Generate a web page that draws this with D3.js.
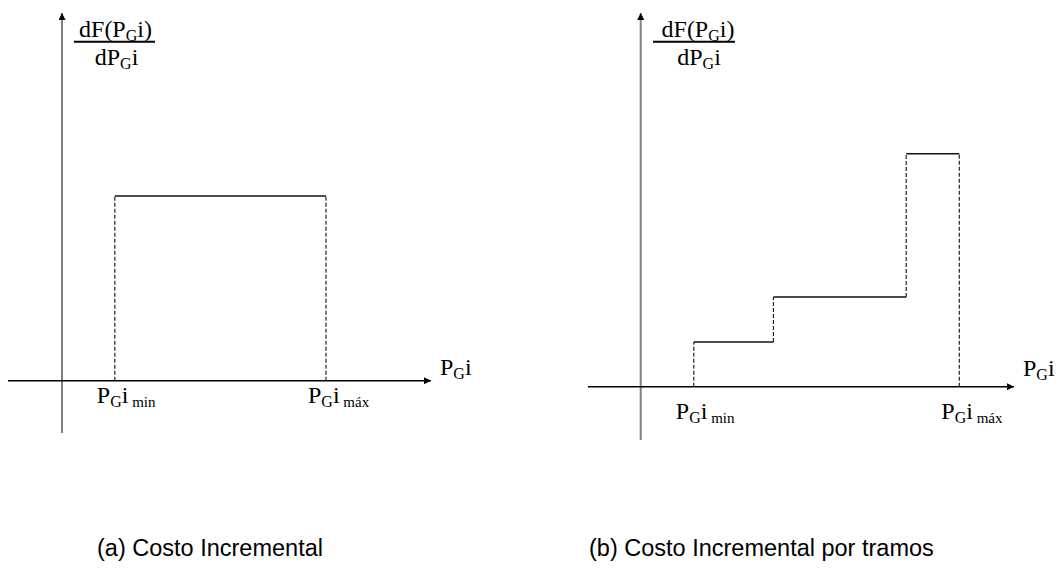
<!DOCTYPE html>
<html>
<head>
<meta charset="utf-8">
<script src="https://cdn.jsdelivr.net/npm/d3@7"></script>
<style>
  html, body { margin: 0; padding: 0; background: #fff; }
  svg { display: block; }
</style>
</head>
<body>
<svg id="chart" width="1058" height="569"></svg>
<script>
// ---------- data ----------
// Panel (a): constant incremental cost between PGi min and PGi max
const panelA_breaks = [1, 5];          // PGi min, PGi max (x units)
const panelA_levels = [3.5];           // incremental cost level
// Panel (b): stepwise incremental cost
const panelB_breaks = [1, 2.5, 5, 6];  // PGi min, step1, step2, PGi max
const panelB_levels = [1, 2, 5.2];     // level of each segment
const tickLabels = ["min", "máx"];
const captions = ["(a) Costo Incremental", "(b) Costo Incremental por tramos"];

const svg = d3.select("#chart");
const defs = svg.append("defs");
defs.append("marker").attr("id", "arr")
  .attr("viewBox", "0 0 10 10").attr("refX", 10).attr("refY", 5)
  .attr("markerUnits", "userSpaceOnUse")
  .attr("markerWidth", 11).attr("markerHeight", 7)
  .attr("orient", "auto")
  .append("path").attr("d", "M0,0 L10,5 L0,10 Z").attr("fill", "#000");

const serif = "'Liberation Serif','Times New Roman',serif";

function pgiLabel(g, x, y, sub) {
  const t = g.append("text").attr("x", x).attr("y", y)
    .attr("font-family", serif).attr("font-size", 24).attr("fill", "#000");
  t.append("tspan").text("P");
  t.append("tspan").attr("font-size", 16).attr("dy", 4).text("G");
  t.append("tspan").attr("dy", -4).text("i");
  if (sub) t.append("tspan").attr("font-size", 15).attr("dy", 4).text("\u00A0" + sub);
  return t;
}

function fraction(g, cx, lineX1, lineX2, numDx) {
  const num = g.append("text").attr("x", cx + (numDx || 0)).attr("y", 36.5)
    .attr("text-anchor", "middle")
    .attr("font-family", serif).attr("font-size", 24).attr("fill", "#000");
  num.append("tspan").text("dF(P");
  num.append("tspan").attr("font-size", 16).attr("dy", 4).text("G");
  num.append("tspan").attr("dy", -4).text("i)");
  g.append("line").attr("x1", lineX1).attr("x2", lineX2)
    .attr("y1", 41.7).attr("y2", 41.7).attr("stroke", "#000").attr("stroke-width", 2);
  const den = g.append("text").attr("x", cx + 1).attr("y", 64.5)
    .attr("text-anchor", "middle")
    .attr("font-family", serif).attr("font-size", 24).attr("fill", "#000");
  den.append("tspan").text("dP");
  den.append("tspan").attr("font-size", 16).attr("dy", 4).text("G");
  den.append("tspan").attr("dy", -4).text("i");
}

function drawPanel(cfg) {
  const g = svg.append("g");
  const x = cfg.x, y = cfg.y;
  // y axis (gray)
  g.append("line").attr("x1", x(0)).attr("x2", x(0))
    .attr("y1", cfg.yAxisBottom).attr("y2", 13)
    .attr("stroke", "#808080").attr("stroke-width", 2)
    .attr("marker-end", "url(#arr)");
  // x axis (black)
  g.append("line").attr("x1", cfg.xAxisLeft).attr("x2", cfg.xAxisRight)
    .attr("y1", y(0)).attr("y2", y(0))
    .attr("stroke", "#000").attr("stroke-width", 1.6)
    .attr("marker-end", "url(#arr)");

  const br = cfg.breaks, lv = cfg.levels;
  // dashed verticals
  const verts = [];
  verts.push({ x: br[0], y0: 0, y1: lv[0] });
  for (let i = 1; i < br.length - 1; i++) verts.push({ x: br[i], y0: lv[i - 1], y1: lv[i] });
  verts.push({ x: br[br.length - 1], y0: 0, y1: lv[lv.length - 1] });
  g.selectAll(".v").data(verts).join("line")
    .attr("x1", d => x(d.x)).attr("x2", d => x(d.x))
    .attr("y1", d => y(d.y0)).attr("y2", d => y(d.y1))
    .attr("stroke", "#222").attr("stroke-width", 1.2)
    .attr("stroke-dasharray", "4,2");
  // horizontal segments
  const segs = lv.map((v, i) => ({ x0: br[i], x1: br[i + 1], v }));
  g.selectAll(".h").data(segs).join("line")
    .attr("x1", d => x(d.x0)).attr("x2", d => x(d.x1))
    .attr("y1", d => y(d.v)).attr("y2", d => y(d.v))
    .attr("stroke", "#111").attr("stroke-width", 1.5);

  // tick labels
  pgiLabel(g, x(br[0]) - 18, cfg.labelY, tickLabels[0]);
  pgiLabel(g, x(br[br.length - 1]) - 18, cfg.labelY, tickLabels[1]);
  // axis label
  pgiLabel(g, cfg.axisLabelX, cfg.axisLabelY, null);
  // y label fraction
  fraction(g, cfg.fracCx, cfg.fracL, cfg.fracR, cfg.numDx);
  // caption
  g.append("text").attr("x", cfg.capX).attr("y", 556)
    .attr("font-family", "'Liberation Sans',Arial,sans-serif")
    .attr("font-size", 23.5).attr("fill", "#000").text(cfg.caption);
}

drawPanel({
  x: d3.scaleLinear().domain([0, 5]).range([62, 326]),
  y: d3.scaleLinear().domain([0, 3.5]).range([380.7, 196]),
  breaks: panelA_breaks, levels: [panelA_levels[0]],
  yAxisBottom: 433, xAxisLeft: 8, xAxisRight: 431,
  labelY: 402.5, axisLabelX: 440, axisLabelY: 375,
  fracCx: 115.5, fracL: 74, fracR: 155, numDx: 0,
  capX: 97, caption: captions[0]
});

drawPanel({
  x: d3.scaleLinear().domain([0, 6]).range([640.7, 959.3]),
  y: d3.scaleLinear().domain([0, 5.2]).range([386.7, 153.7]),
  breaks: panelB_breaks, levels: panelB_levels,
  yAxisBottom: 440, xAxisLeft: 588, xAxisRight: 1014,
  labelY: 419, axisLabelX: 1023, axisLabelY: 376,
  fracCx: 698, fracL: 653, fracR: 735, numDx: 0,
  capX: 589, caption: captions[1]
});
</script>
</body>
</html>
